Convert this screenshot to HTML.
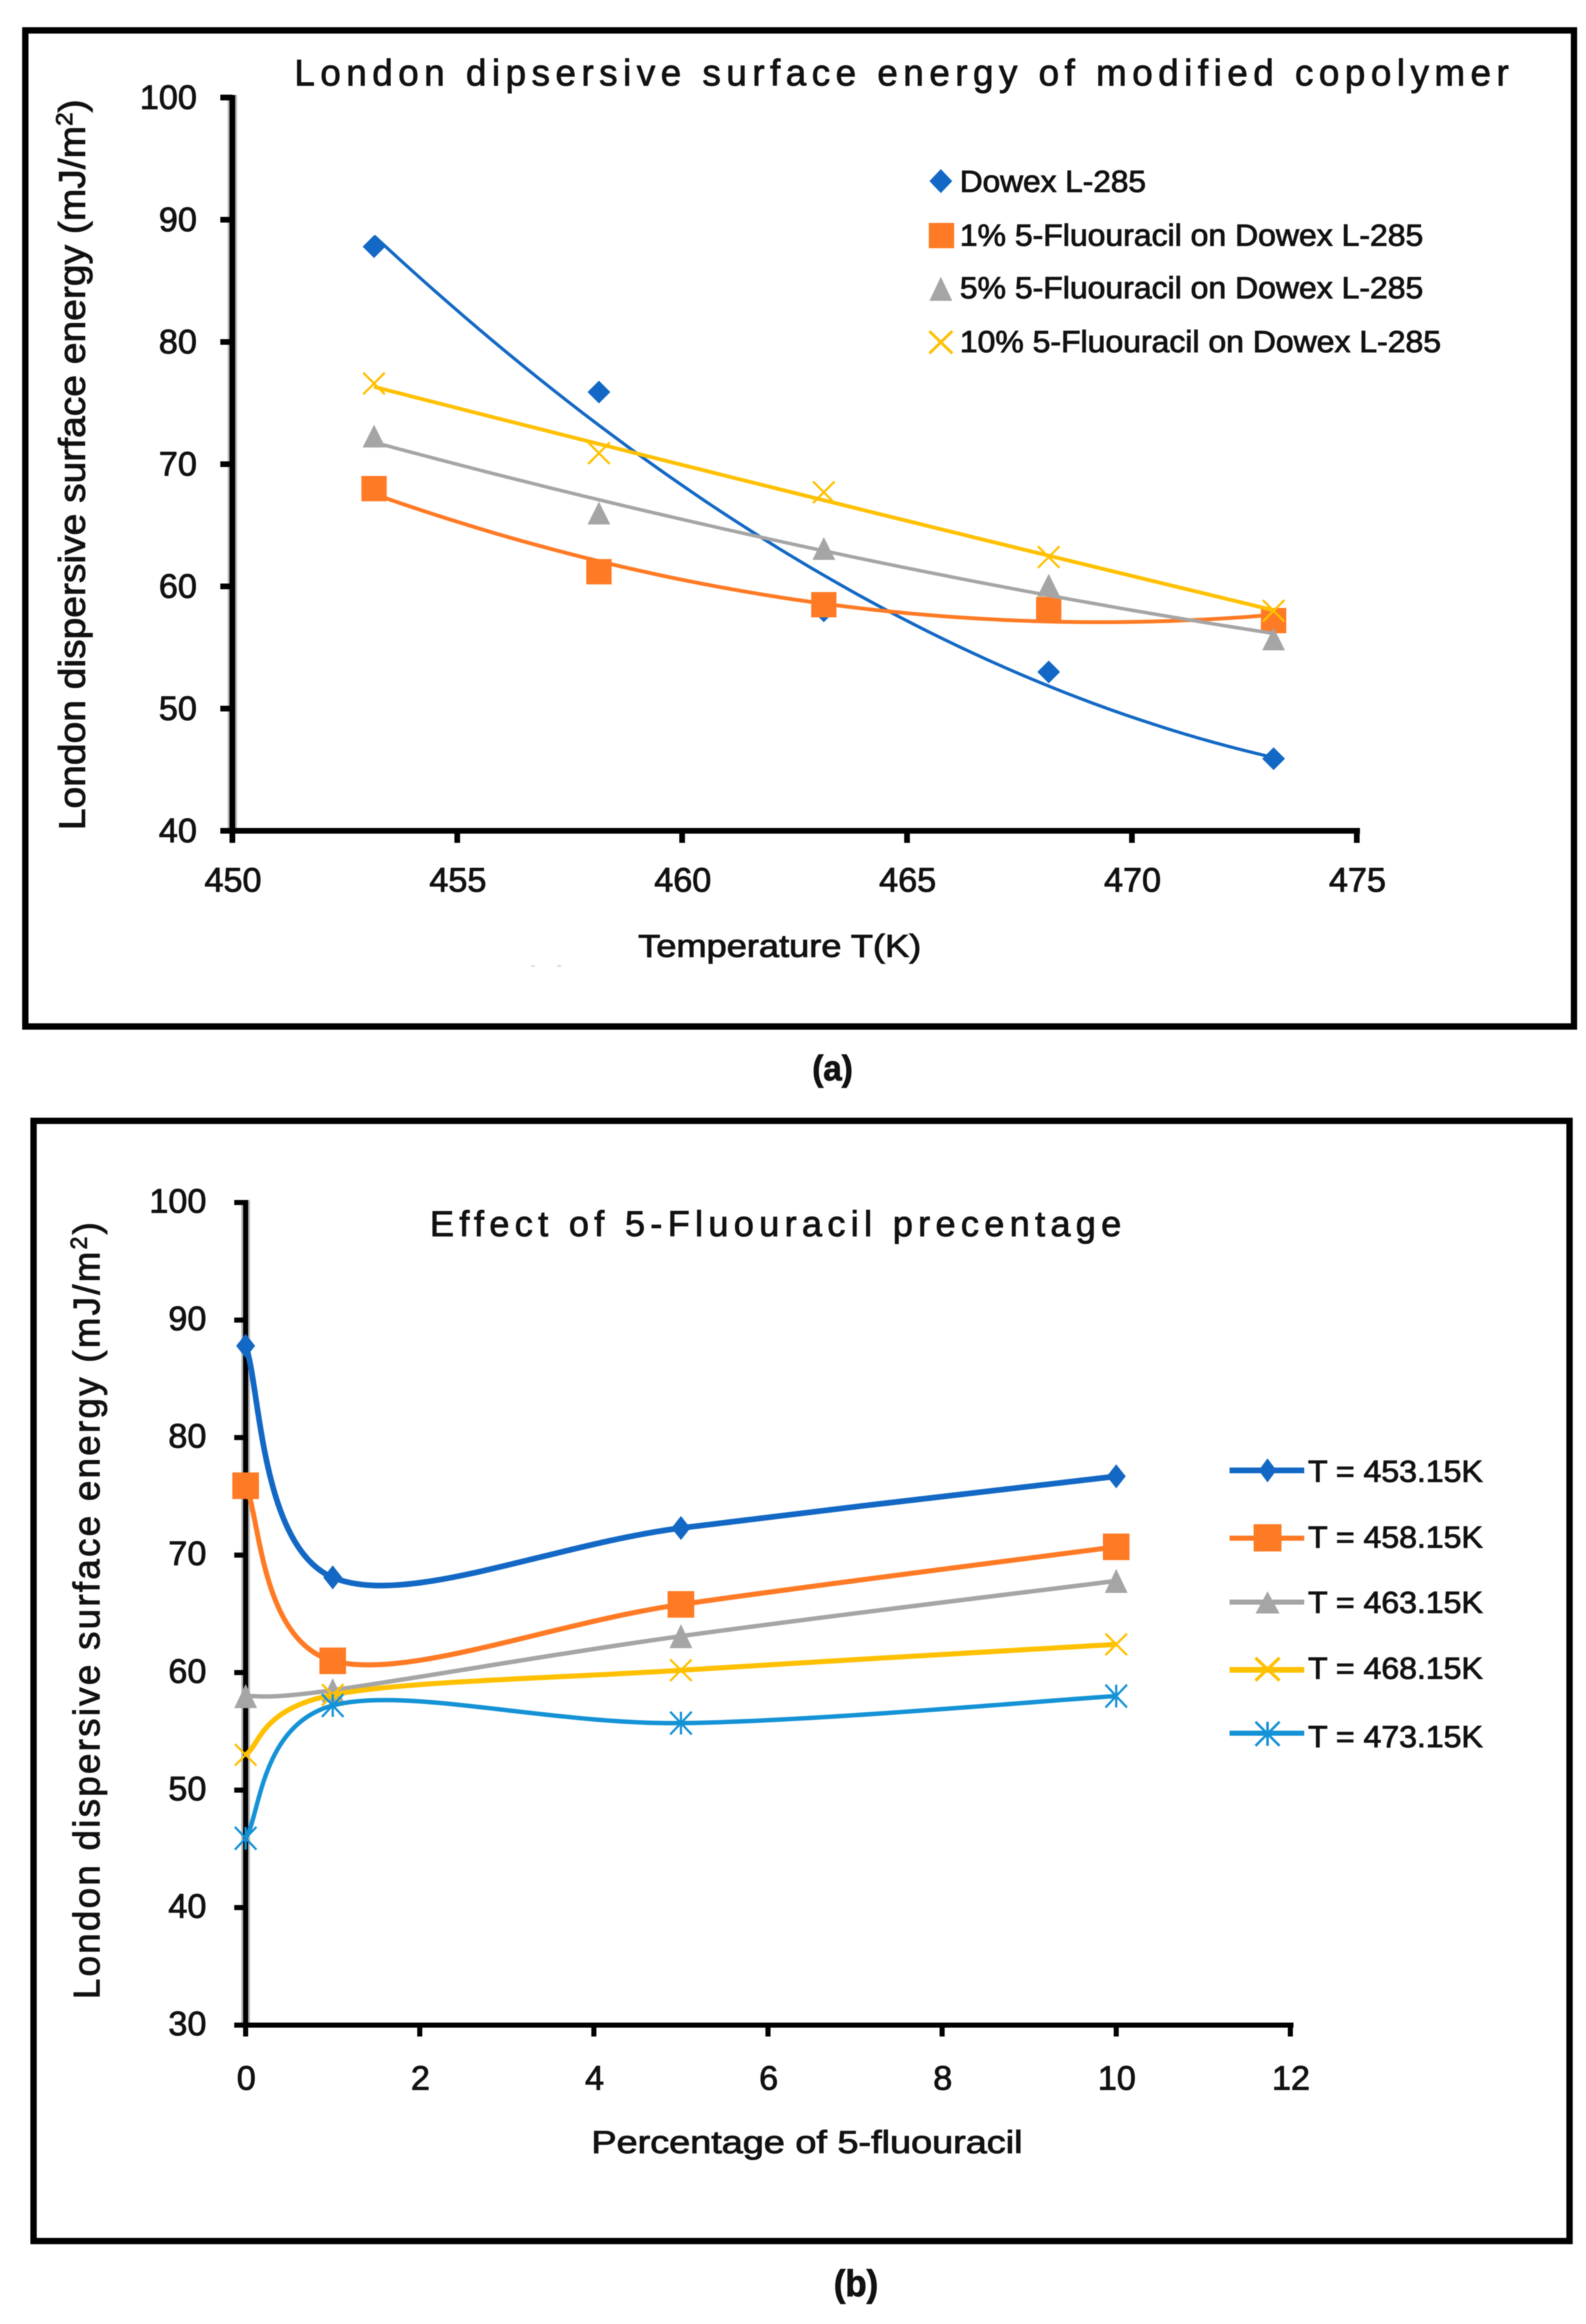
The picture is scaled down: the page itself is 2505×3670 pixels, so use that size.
<!DOCTYPE html>
<html lang="en">
<head>
<meta charset="utf-8">
<title>London dispersive surface energy charts</title>
<style>
html,body{margin:0;padding:0;background:#fff;}
svg{display:block;filter:blur(0.8px);}
text{font-family:"Liberation Sans",sans-serif;fill:#111;stroke:#111;stroke-width:1.3px;}
</style>
</head>
<body>
<svg id="figure" xmlns="http://www.w3.org/2000/svg" width="2505" height="3670" viewBox="0 0 2505 3670">
  <rect x="0" y="0" width="2505" height="3670" fill="#fff"/>

  <!-- Panel (a) -->
  <rect x="40" y="48" width="2446" height="1573" fill="none" stroke="#000" stroke-width="10"/>
  <text x="465" y="135" font-size="58" textLength="1918" lengthAdjust="spacing">London dipsersive surface energy of modified copolymer</text>
  <text transform="translate(134 1311) rotate(-90)" font-size="58" textLength="1154" lengthAdjust="spacingAndGlyphs">London dispersive surface energy (mJ/m<tspan dy="-20" font-size="36">2</tspan><tspan dy="20">)</tspan></text>
  <text x="1008" y="1511" font-size="50" textLength="447" lengthAdjust="spacingAndGlyphs">Temperature T(K)</text>
  <g id="panel-a-axes"></g>
  <g id="panel-a-series"></g>

  <g>
    <g>
      <polygon points="1486,267 1504,286 1486,305 1468,286" fill="#1268C4"/>
      <text x="1516" y="303" font-size="48" textLength="294" lengthAdjust="spacingAndGlyphs">Dowex L-285</text>
    </g>
    <g>
      <rect x="1467" y="352" width="40" height="40" fill="#FF7A24"/>
      <text x="1516" y="388" font-size="48" textLength="732" lengthAdjust="spacingAndGlyphs">1% 5-Fluouracil on Dowex L-285</text>
    </g>
    <g>
      <polygon points="1486,437 1504,475 1468,475" fill="#A5A5A5"/>
      <text x="1516" y="471" font-size="48" textLength="732" lengthAdjust="spacingAndGlyphs">5% 5-Fluouracil on Dowex L-285</text>
    </g>
    <g>
      <path d="M1468,523L1504,558M1504,523L1468,558" fill="none" stroke="#FFC000" stroke-width="4.5"/>
      <text x="1516" y="556" font-size="48" textLength="760" lengthAdjust="spacingAndGlyphs">10% 5-Fluouracil on Dowex L-285</text>
    </g>
  </g>

  <rect x="839" y="1524" width="6" height="3" fill="#ddd"/>
  <rect x="880" y="1524" width="6" height="3" fill="#ddd"/>
  <text x="1283" y="1706" font-size="56" font-weight="bold" textLength="64" lengthAdjust="spacingAndGlyphs">(a)</text>

  <!-- Panel (b) -->
  <rect x="53" y="1770" width="2426" height="1769" fill="none" stroke="#000" stroke-width="10"/>
  <text x="679" y="1952" font-size="57" textLength="1092" lengthAdjust="spacing">Effect of 5-Fluouracil precentage</text>
  <text transform="translate(157 3157) rotate(-90)" font-size="58" textLength="1227" lengthAdjust="spacing">London dispersive surface energy (mJ/m<tspan dy="-20" font-size="36">2</tspan><tspan dy="20">)</tspan></text>
  <text x="934" y="3400" font-size="50" textLength="681" lengthAdjust="spacingAndGlyphs">Percentage of 5-fluouracil</text>
  <g id="panel-b-axes"></g>
  <g id="panel-b-series"></g>

  <g>
    <g>
      <line x1="1942" x2="2060" y1="2322" y2="2322" stroke="#1268C4" stroke-width="9"/>
      <polygon points="2002,2303 2016,2322 2002,2341 1988,2322" fill="#1268C4"/>
      <text x="2066" y="2340" font-size="48" textLength="276" lengthAdjust="spacingAndGlyphs">T = 453.15K</text>
    </g>
    <g>
      <line x1="1942" x2="2060" y1="2429" y2="2429" stroke="#FF7A24" stroke-width="8"/>
      <rect x="1980" y="2407" width="44" height="43" fill="#FF7A24"/>
      <text x="2066" y="2444" font-size="48" textLength="276" lengthAdjust="spacingAndGlyphs">T = 458.15K</text>
    </g>
    <g>
      <line x1="1942" x2="2060" y1="2530" y2="2530" stroke="#A5A5A5" stroke-width="8"/>
      <polygon points="2002,2513 2021,2548 1983,2548" fill="#A5A5A5"/>
      <text x="2066" y="2547" font-size="48" textLength="276" lengthAdjust="spacingAndGlyphs">T = 463.15K</text>
    </g>
    <g>
      <line x1="1942" x2="2060" y1="2637" y2="2637" stroke="#FFC000" stroke-width="9"/>
      <path d="M1983,2618L2021,2654M2021,2618L1983,2654" fill="none" stroke="#FFC000" stroke-width="5"/>
      <text x="2066" y="2651" font-size="48" textLength="276" lengthAdjust="spacingAndGlyphs">T = 468.15K</text>
    </g>
    <g>
      <line x1="1942" x2="2060" y1="2737" y2="2737" stroke="#1492D6" stroke-width="8"/>
      <path d="M1983,2719L2021,2757M2021,2719L1983,2757M2002,2719L2002,2757" fill="none" stroke="#1492D6" stroke-width="4"/>
      <text x="2066" y="2759" font-size="48" textLength="276" lengthAdjust="spacingAndGlyphs">T = 473.15K</text>
    </g>
  </g>
  <text x="1317" y="3626" font-size="58" font-weight="bold" textLength="70" lengthAdjust="spacingAndGlyphs">(b)</text>
</svg>

<script>
// Panel (a) data
const temperatures = [453.15, 458.15, 463.15, 468.15, 473.15];
const dowex = [87.8, 75.9, 58, 53, 45.9];
const onePercent = [68, 61.2, 58.5, 58.1, 57.2];
const fivePercent = [72.3, 66, 63.1, 60.1, 55.7];
const tenPercent = [76.6, 70.9, 67.7, 62.4, 58];
const aYTicks = [40, 50, 60, 70, 80, 90, 100];
const aXTicks = [450, 455, 460, 465, 470, 475];

// Panel (b) data
const percentages = [0, 1, 5, 10];
const t453 = [87.8, 68.1, 72.3, 76.7];
const t458 = [75.9, 61, 65.8, 70.7];
const t463 = [58, 58.5, 63.1, 67.8];
const t468 = [53, 58.1, 60.2, 62.4];
const t473 = [45.9, 57.2, 55.7, 58];
const bYTicks = [30, 40, 50, 60, 70, 80, 90, 100];
const bXTicks = [0, 2, 4, 6, 8, 10, 12];

const NS = 'http://www.w3.org/2000/svg';
function mk(tag, parent, attrs) {
  const el = document.createElementNS(NS, tag);
  for (const k in attrs) el.setAttribute(k, attrs[k]);
  parent.appendChild(el);
  return el;
}
function linear(d0, d1, r0, r1) {
  return v => r0 + (v - d0) * (r1 - r0) / (d1 - d0);
}

const axA = linear(450, 475, 367, 2143);
const ayA = linear(40, 100, 1312, 154);
const axB = linear(0, 12, 388, 2038);
const ayB = linear(30, 100, 3198, 1899);

function drawAxes(group, prefix, xs, ys, xScale, yScale, xTicks, yTicks, o) {
  const yMin = yTicks[0], yMax = yTicks[yTicks.length - 1];
  const xMin = xTicks[0], xMax = xTicks[xTicks.length - 1];
  const halo = mk('line', group, {x1: xScale(xMin), x2: xScale(xMin), y1: yScale(yMax) - 4, y2: yScale(yMin), stroke: '#bbb', 'stroke-width': o.axisW + 6});
  
  
  const yLine = mk('line', group, {x1: xScale(xMin), x2: xScale(xMin), y1: yScale(yMax) - 4, y2: yScale(yMin) + o.tickLen, stroke: '#000', 'stroke-width': o.axisW});
  
  
  const xLine = mk('line', group, {x1: xScale(xMin) - o.tickLen, x2: xScale(xMax) + 5, y1: yScale(yMin), y2: yScale(yMin), stroke: '#000', 'stroke-width': o.axisW});
  
  
  yTicks.forEach(v => {
    const tick = mk('line', group, {x1: xScale(xMin) - o.tickLen, x2: xScale(xMin), y1: yScale(v), y2: yScale(v), stroke: '#000', 'stroke-width': o.tickW});
    
    
    const label = mk('text', group, {x: o.yLabelRight, y: yScale(v) + o.yLabelDy, 'text-anchor': 'end', 'font-size': o.font});
    
    
    label.textContent = String(v);
  });
  xTicks.forEach(v => {
    const tick = mk('line', group, {x1: xScale(v), x2: xScale(v), y1: yScale(yMin), y2: yScale(yMin) + o.tickLen, stroke: '#000', 'stroke-width': o.tickW});
    
    
    const label = mk('text', group, {x: xScale(v) + 1, y: o.xLabelY, 'text-anchor': 'middle', 'font-size': o.font});
    
    
    label.textContent = String(v);
  });
}

function drawMarker(group, shape, cx, cy, color, w, h, sw, name) {
  let el;
  if (shape === 'diamond') {
    el = mk('polygon', group, {points: `${cx},${cy - h} ${cx + w},${cy} ${cx},${cy + h} ${cx - w},${cy}`, fill: color});
  } else if (shape === 'square') {
    el = mk('rect', group, {x: cx - w, y: cy - h, width: 2 * w, height: 2 * h, fill: color});
  } else if (shape === 'triangle') {
    el = mk('polygon', group, {points: `${cx},${cy - h} ${cx + w},${cy + h} ${cx - w},${cy + h}`, fill: color});
  } else if (shape === 'x') {
    el = mk('path', group, {d: `M${cx - w},${cy - h}L${cx + w},${cy + h}M${cx + w},${cy - h}L${cx - w},${cy + h}`, fill: 'none', stroke: color, 'stroke-width': sw});
  } else {
    el = mk('path', group, {d: `M${cx - w},${cy - h}L${cx + w},${cy + h}M${cx + w},${cy - h}L${cx - w},${cy + h}M${cx},${cy - h}L${cx},${cy + h}`, fill: 'none', stroke: color, 'stroke-width': sw});
  }
  
  
}

// Quadratic least-squares trendline computed from the plotted values
function quadFit(xs, ys) {
  const n = xs.length;
  const mx = xs.reduce((a, b) => a + b, 0) / n;
  const u = xs.map(x => x - mx);
  let s1 = 0, s2 = 0, s3 = 0, s4 = 0, t0 = 0, t1 = 0, t2 = 0;
  u.forEach((v, i) => {
    s1 += v; s2 += v * v; s3 += v * v * v; s4 += v * v * v * v;
    t0 += ys[i]; t1 += v * ys[i]; t2 += v * v * ys[i];
  });
  const A = [[n, s1, s2, t0], [s1, s2, s3, t1], [s2, s3, s4, t2]];
  for (let i = 0; i < 3; i++) {
    for (let j = i + 1; j < 3; j++) {
      const f = A[j][i] / A[i][i];
      for (let k = i; k < 4; k++) A[j][k] -= f * A[i][k];
    }
  }
  const c = A[2][3] / A[2][2];
  const b = (A[1][3] - A[1][2] * c) / A[1][1];
  const a = (A[0][3] - A[0][1] * b - A[0][2] * c) / A[0][0];
  return x => a + b * (x - mx) + c * (x - mx) * (x - mx);
}

function drawTrend(group, xs, ys, xScale, yScale, color, width, name) {
  const f = quadFit(xs, ys);
  const x0 = xs[0], x1 = xs[xs.length - 1];
  let d = '';
  for (let i = 0; i <= 60; i++) {
    const x = x0 + (x1 - x0) * i / 60;
    d += (i ? 'L' : 'M') + xScale(x).toFixed(1) + ',' + yScale(f(x)).toFixed(1);
  }
  const el = mk('path', group, {d: d, fill: 'none', stroke: color, 'stroke-width': width});
  
  
}

// Spreadsheet-style smoothed line through the points
function drawSmooth(group, xs, ys, xScale, yScale, color, width, name) {
  const p = xs.map((x, i) => [xScale(x), yScale(ys[i])]);
  let d = 'M' + p[0][0] + ',' + p[0][1];
  for (let i = 0; i < p.length - 1; i++) {
    const a = p[Math.max(i - 1, 0)], b = p[i], c = p[i + 1], e = p[Math.min(i + 2, p.length - 1)];
    const c1 = [b[0] + (c[0] - a[0]) / 6, b[1] + (c[1] - a[1]) / 6];
    const c2 = [c[0] - (e[0] - b[0]) / 6, c[1] - (e[1] - b[1]) / 6];
    d += `C${c1[0].toFixed(1)},${c1[1].toFixed(1)} ${c2[0].toFixed(1)},${c2[1].toFixed(1)} ${c[0].toFixed(1)},${c[1].toFixed(1)}`;
  }
  const el = mk('path', group, {d: d, fill: 'none', stroke: color, 'stroke-width': width, 'stroke-linejoin': 'round'});
  
  
}

drawAxes(document.getElementById('panel-a-axes'), 'panel-a', temperatures, dowex, axA, ayA, aXTicks, aYTicks,
  {axisW: 9, tickW: 9, tickLen: 19, yLabelRight: 311, yLabelDy: 18, xLabelY: 1408, font: 54});
drawAxes(document.getElementById('panel-b-axes'), 'panel-b', percentages, t453, axB, ayB, bXTicks, bYTicks,
  {axisW: 8, tickW: 8, tickLen: 18, yLabelRight: 326, yLabelDy: 16, xLabelY: 3300, font: 54});

const seriesA = [
  {name: 'dowex', values: dowex, color: '#1268C4', shape: 'diamond', w: 18, h: 18, lw: 5},
  {name: '1-percent', values: onePercent, color: '#FF7A24', shape: 'square', w: 20, h: 20, lw: 6},
  {name: '5-percent', values: fivePercent, color: '#A5A5A5', shape: 'triangle', w: 18, h: 18, lw: 5.5},
  {name: '10-percent', values: tenPercent, color: '#FFC000', shape: 'x', w: 17, h: 17, lw: 6}
];
const groupA = document.getElementById('panel-a-series');
seriesA.forEach(s => {
  drawTrend(groupA, temperatures, s.values, axA, ayA, s.color, s.lw, 'trendline-' + s.name);
  s.values.forEach((v, i) => {
    drawMarker(groupA, s.shape, axA(temperatures[i]), ayA(v), s.color, s.w, s.h, 3.5, 'point-' + s.name + '-' + temperatures[i]);
  });
});

const seriesB = [
  {name: 't453', values: t453, color: '#1268C4', shape: 'diamond', w: 15, h: 19, lw: 9},
  {name: 't458', values: t458, color: '#FF7A24', shape: 'square', w: 21, h: 21, lw: 8},
  {name: 't463', values: t463, color: '#A5A5A5', shape: 'triangle', w: 18, h: 19, lw: 7},
  {name: 't468', values: t468, color: '#FFC000', shape: 'x', w: 17, h: 17, lw: 8},
  {name: 't473', values: t473, color: '#1492D6', shape: 'star', w: 17, h: 18, lw: 7}
];
const groupB = document.getElementById('panel-b-series');
seriesB.forEach(s => {
  drawSmooth(groupB, percentages, s.values, axB, ayB, s.color, s.lw, 'line-' + s.name);
  s.values.forEach((v, i) => {
    drawMarker(groupB, s.shape, axB(percentages[i]), ayB(v), s.color, s.w, s.h, 3.5, 'point-' + s.name + '-' + percentages[i]);
  });
});
</script>
</body>
</html>
